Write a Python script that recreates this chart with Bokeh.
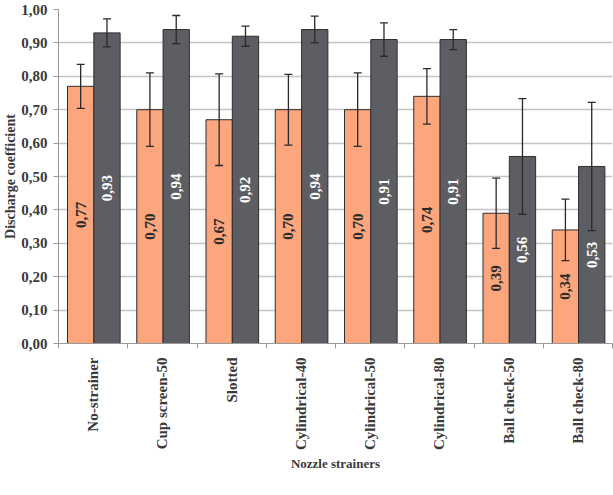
from bokeh.plotting import figure
from bokeh.models import (ColumnDataSource, Range1d, FixedTicker, Whisker, TeeHead,
                          CustomJSTickFormatter, LinearAxis, Grid)
from bokeh.transform import dodge
from bokeh.core.properties import value
from bokeh.embed import file_html
from bokeh.resources import INLINE
import math

# Discharge coefficient per nozzle strainer, two test series with their spreads
strainers = ["No-strainer", "Cup screen-50", "Slotted", "Cylindrical-40",
             "Cylindrical-50", "Cylindrical-80", "Ball check-50", "Ball check-80"]
series_a = [0.77, 0.70, 0.67, 0.70, 0.70, 0.74, 0.39, 0.34]
series_a_err = [0.066, 0.110, 0.137, 0.106, 0.110, 0.083, 0.105, 0.092]
series_b = [0.93, 0.94, 0.92, 0.94, 0.91, 0.91, 0.56, 0.53]
series_b_err = [0.042, 0.042, 0.030, 0.040, 0.050, 0.030, 0.173, 0.192]
y_ticks = [0.0, 0.1, 0.2, 0.3, 0.4, 0.5, 0.6, 0.7, 0.8, 0.9, 1.0]

FONT = "Liberation Serif"
ORANGE = "#FCA67D"
GREY = "#5C5E63"
EDGE = "#2E2E2E"
TXT = "#3A3A3A"


def fmt(v):
    return f"{v:.2f}".replace(".", ",")


centers = [i + 0.5 for i in range(len(strainers))]
src = ColumnDataSource(dict(
    x=centers,
    a=series_a, a_lo=[v - e for v, e in zip(series_a, series_a_err)],
    a_hi=[v + e for v, e in zip(series_a, series_a_err)],
    a_mid=[v / 2 for v in series_a], a_lab=[fmt(v) for v in series_a],
    b=series_b, b_lo=[v - e for v, e in zip(series_b, series_b_err)],
    b_hi=[v + e for v, e in zip(series_b, series_b_err)],
    b_mid=[v / 2 for v in series_b], b_lab=[fmt(v) for v in series_b],
))

p = figure(width=613, height=495, output_backend="svg", toolbar_location=None,
           x_range=Range1d(0, len(strainers)), y_range=Range1d(0, 1.0),
           min_border_left=57, min_border_right=1, min_border_top=9,
           min_border_bottom=152, x_axis_type=None, y_axis_type=None)
p.outline_line_color = None
p.background_fill_color = "white"
p.border_fill_color = "white"

# horizontal grid behind the bars
p.add_layout(Grid(dimension=1, ticker=FixedTicker(ticks=y_ticks),
                  grid_line_color="#C4C4C4", grid_line_width=1.5), "center")

OFF_A, OFF_B, W = -0.18, 0.20, 0.38

p.vbar(x=dodge("x", OFF_A), top="a", bottom=0, width=W, source=src,
       fill_color=ORANGE, line_color=EDGE, line_width=1)
p.vbar(x=dodge("x", OFF_B), top="b", bottom=0, width=W, source=src,
       fill_color=GREY, line_color=EDGE, line_width=1)

for base, lo, hi in ((OFF_A, "a_lo", "a_hi"), (OFF_B, "b_lo", "b_hi")):
    p.add_layout(Whisker(base=dodge("x", base), lower=lo, upper=hi, source=src,
                         level="overlay", line_color="#2A2A2A", line_width=1.3,
                         lower_head=TeeHead(size=8, line_color="#2A2A2A", line_width=1.3),
                         upper_head=TeeHead(size=8, line_color="#2A2A2A", line_width=1.3)))

p.text(x=dodge("x", OFF_A), y="a_mid", text="a_lab", source=src, angle=math.pi / 2,
       text_align="center", text_baseline="middle", text_color="#2B2B2B",
       text_font=value(FONT), text_font_style="bold", text_font_size="15px")
p.text(x=dodge("x", OFF_B), y="b_mid", text="b_lab", source=src, angle=math.pi / 2,
       text_align="center", text_baseline="middle", text_color="white",
       text_font=value(FONT), text_font_style="bold", text_font_size="15px")

# y axis with comma decimals
yaxis = LinearAxis(ticker=FixedTicker(ticks=y_ticks),
                   formatter=CustomJSTickFormatter(code="return tick.toFixed(2).replace('.', ',');"),
                   axis_label="Discharge coefficient")
yaxis.axis_line_color = "#9A9A9A"
yaxis.major_tick_line_color = "#9A9A9A"
yaxis.major_tick_out = 5
yaxis.major_tick_in = 0
yaxis.minor_tick_line_color = None
yaxis.major_label_standoff = 6
yaxis.major_label_text_font = FONT
yaxis.major_label_text_font_style = "bold"
yaxis.major_label_text_font_size = "15px"
yaxis.major_label_text_color = TXT
yaxis.axis_label_text_font = FONT
yaxis.axis_label_text_font_style = "bold"
yaxis.axis_label_text_font_size = "14px"
yaxis.axis_label_text_color = TXT
yaxis.axis_label_standoff = 0
p.add_layout(yaxis, "left")

# x axis: names at group centres, ticks at group boundaries
xaxis = LinearAxis(ticker=FixedTicker(ticks=centers,
                                      minor_ticks=list(range(len(strainers) + 1))),
                   axis_label="Nozzle strainers")
xaxis.major_label_overrides = {c: s for c, s in zip(centers, strainers)}
xaxis.major_label_orientation = math.pi / 2
xaxis.axis_line_color = "#9A9A9A"
xaxis.major_tick_out = 0
xaxis.major_tick_in = 0
xaxis.minor_tick_line_color = "#9A9A9A"
xaxis.minor_tick_out = 5
xaxis.minor_tick_in = 0
xaxis.major_label_standoff = 9
xaxis.major_label_text_font = FONT
xaxis.major_label_text_font_style = "bold"
xaxis.major_label_text_font_size = "15px"
xaxis.major_label_text_color = TXT
xaxis.axis_label_text_font = FONT
xaxis.axis_label_text_font_style = "bold"
xaxis.axis_label_text_font_size = "13px"
xaxis.axis_label_text_color = TXT
xaxis.axis_label_standoff = 3
p.add_layout(xaxis, "below")

open("out.html", "w").write(file_html(p, INLINE))
